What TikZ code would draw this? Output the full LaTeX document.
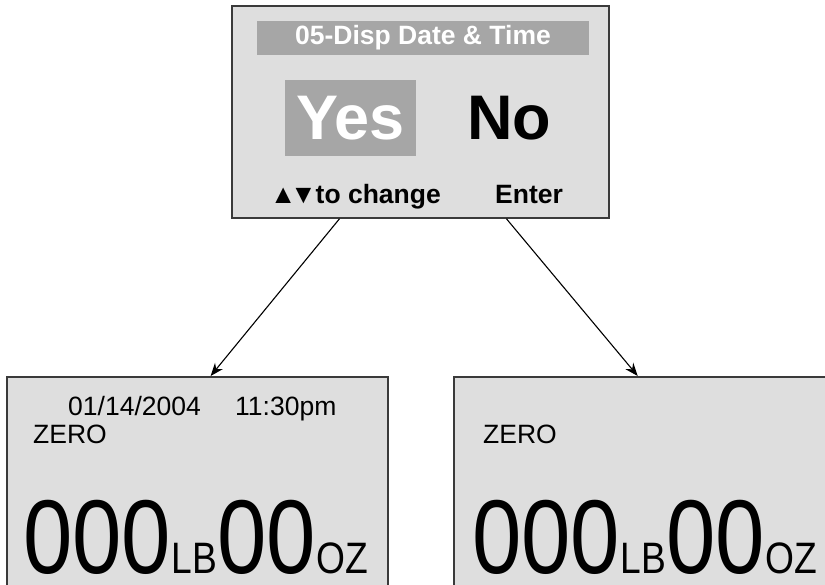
\documentclass[tikz,border=0pt]{standalone}
\usepackage{fontspec}
\setmainfont{Liberation Sans}
\usetikzlibrary{calc,arrows.meta}
\definecolor{scrfill}{HTML}{DEDEDE}
\definecolor{barfill}{HTML}{A6A6A6}
\definecolor{edge}{HTML}{3A3A3A}
\newcommand{\fsz}[1]{\fontsize{#1}{#1}\selectfont}
\newcommand{\bigweight}[1]{\raisebox{0pt}[\height][0pt]{\scalebox{0.845}[1]{\fsz{105}000\kern0.5pt\fsz{44}LB\kern0.5pt\fsz{105}00\kern0pt\fsz{44}OZ}}}
\tikzset{
  screen/.style={draw=edge, line width=1.5pt, fill=scrfill, inner sep=0pt, rectangle},
  bar/.style={fill=barfill, inner sep=0pt, rectangle},
  txt/.style={inner sep=0pt, anchor=base west},
  conn/.style={line width=1.1pt, -{Stealth[length=13pt,width=10pt]}},
}
\begin{document}
\begin{tikzpicture}[x=1pt,y=-1pt]
\path[use as bounding box, clip] (0,0) rectangle (825,584);
\fill[white] (0,0) rectangle (825,584);
% top screen
\node[screen, minimum width=377pt, minimum height=212pt] (top) at (420.5,112) {};
\node[bar, minimum width=332pt, minimum height=34pt] (title) at (423,38) {};
\node[inner sep=0pt, text=white, font=\bfseries\fsz{26.5}] (titletxt) at (423,38) {05-Disp Date \& Time};
\node[bar, minimum width=131pt, minimum height=76pt] (yesbox) at (350.5,118) {};
\node[inner sep=0pt, text=white, font=\bfseries\fsz{63}] (yes) at (350.5,118) {Yes};
\node[inner sep=0pt, text=black, font=\bfseries\fsz{63}] (no) at (509,118) {No};
\node[txt, font=\bfseries\fsz{26.5}] (change) at (270,203) {▲\kern-6pt▼\kern-1pt to change};
\node[txt, font=\bfseries\fsz{26.5}] (enter) at (495,203) {Enter};
% bottom screens
\node[screen, anchor=north west, minimum width=381pt, minimum height=260pt] (left) at (6,376) {};
\node[screen, anchor=north west, minimum width=381pt, minimum height=260pt] (right) at (453,376) {};
\node[txt, font=\fsz{26.5}] (date) at (68,415) {01/14/2004};
\node[txt, font=\fsz{26.5}] (time) at (235,415) {11:30pm};
\node[txt, font=\fsz{26.5}] (zeroL) at (33,443) {ZERO};
\node[txt] (weightL) at (23,573) {\bigweight{}};
\node[txt, font=\fsz{26.5}] (zeroR) at (483,443) {ZERO};
\node[txt] (weightR) at (472,573) {\bigweight{}};
% connectors
\draw[conn] ($(top.south west)!0.286!(top.south east)$) -- ($(left.north west)!0.535!(left.north east)$);
\draw[conn] ($(top.south west)!0.727!(top.south east)$) -- ($(right.north west)!0.483!(right.north east)$);
\end{tikzpicture}
\end{document}
